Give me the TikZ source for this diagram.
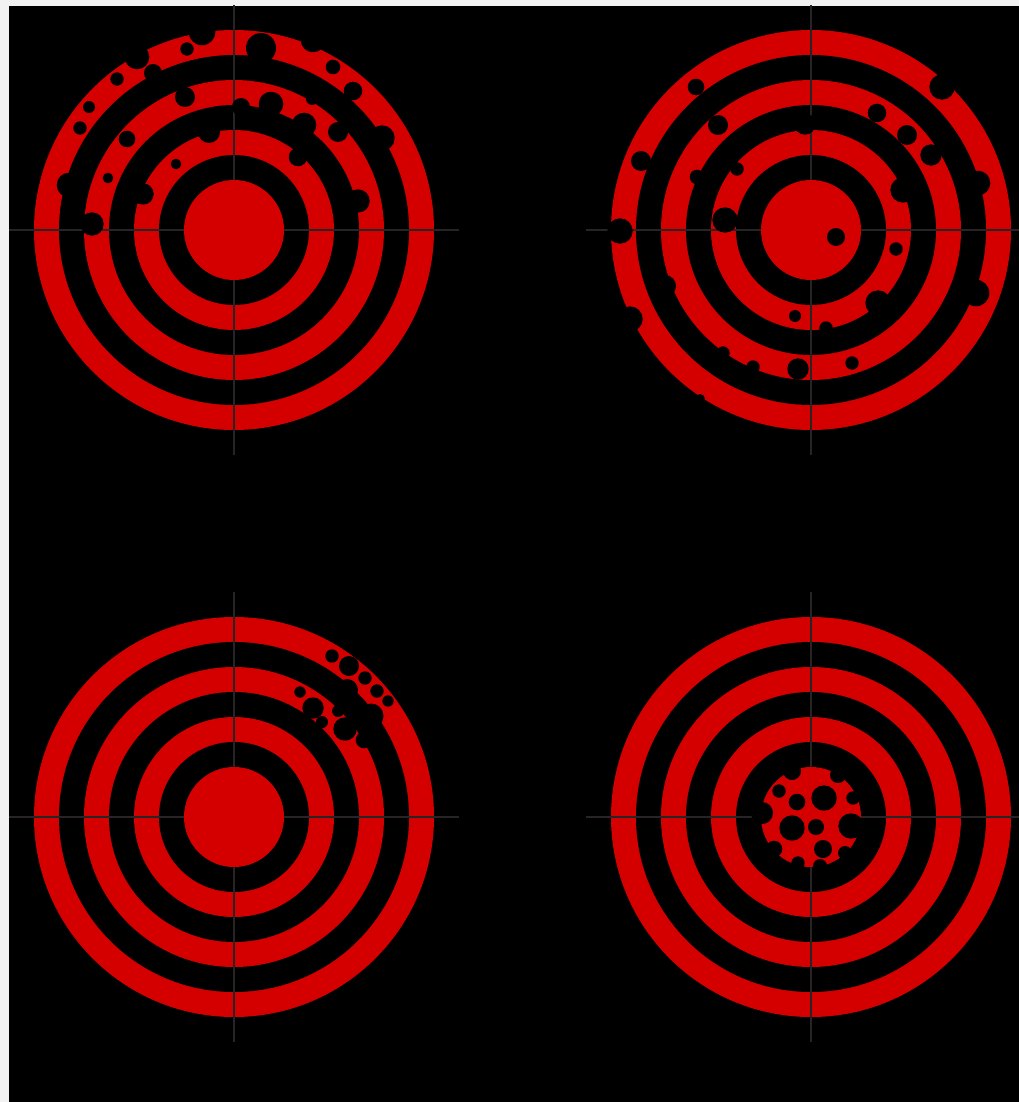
\documentclass[tikz,border=0pt]{standalone}
\definecolor{targetred}{RGB}{212,0,0}
\definecolor{crossgray}{RGB}{40,35,36}
\definecolor{margingray}{RGB}{242,242,242}
\tikzset{
  cross/.style={draw=crossgray, line width=1.3pt},
  hole/.style={fill=black}
}
\begin{document}
\begin{tikzpicture}[x=1pt,y=-1pt]
	\useasboundingbox (0,0) rectangle (1019,1102);
	\clip (0,0) rectangle (1019,1102);
	\fill[margingray] (0,0) rectangle (1019,1102);
	\fill[black] (9,6) rectangle (1019,1102);
	\foreach \cx/\cy in {234/230,811/230,234/817,811/817}{
		\foreach \r/\c in {200/targetred,175/black,150/targetred,125/black,100/targetred,75/black}
			\fill[\c] (\cx,\cy) circle (\r);
		\draw[cross] (\cx-225,\cy)--(\cx+225,\cy) (\cx,\cy-225)--(\cx,\cy+225);
		\fill[targetred] (\cx,\cy) circle (50);
	}
	% top left: spread high
	\foreach \x/\y/\r in {202/32/13.3,261/48/15,187/49/6.7,313/40/12.3,137/57/12.3,153/73/9,117/79/6.7,
		333/67/7.3,353/91/9.3,89/107/6,80/128/6.7,185/97/10,241/107/9,271/104/12.3,312/99/6,304/125/12.3,
		338/132/10,382/138/12.7,127/139/8.3,209/132/11,298/157/9.3,176/164/5.3,69/185/12.3,108/178/5.3,
		143/194/10.7,358/201/11.7,92/224/11.7}
		\fill[hole] (\x,\y) circle (\r);
	% top right: spread all round
	\foreach \x/\y/\r in {753/32/4,696/87/8.3,942/87/12.7,718/125/10,805/124/10.7,877/113/9.3,907/135/10,
		931/155/10.7,641/161/10,737/169/6.7,697/177/7.3,903/190/12.7,978/183/12.3,725/220/12.7,620/231/12.7,
		836/237/9,896/249/6.7,665/286/11,630/319/12.7,976/293/13.3,878/303/12.7,795/316/6,826/328/6.7,
		723/353/6.7,753/367/6.7,798/369/10.7,852/363/6.7,700/399/5}
		\fill[hole] (\x,\y) circle (\r);
	% bottom left: tight, off centre
	\foreach \x/\y/\r in {332/656/6.7,349/666/10,365/678/6.7,377/691/6.7,388/701/5.7,300/692/5.7,
		313/708/10.7,347/690/11,338/711/6,345/729/11.7,371/716/12.5,364/740/8.3,322/722/6}
		\fill[hole] (\x,\y) circle (\r);
	% bottom right: tight, centred
	\foreach \x/\y/\r in {779/791/6.7,797/802/8.3,824/798/12.7,853/798/6.7,792/828/12.7,816/827/8,
		851/826/12.7,823/849/9,762/813/11,792/771/9,838/775/8,774/849/8.3,798/863/6.7,820/866/7,845/853/7}
		\fill[hole] (\x,\y) circle (\r);
\end{tikzpicture}
\end{document}
